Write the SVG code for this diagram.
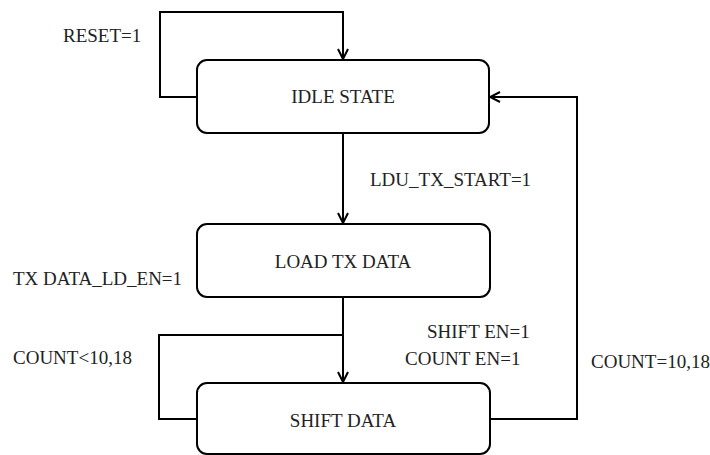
<svg xmlns="http://www.w3.org/2000/svg" width="710" height="455" viewBox="0 0 710 455">
<style>
.box{fill:#fff;stroke:#000;stroke-width:2}
.ln{fill:none;stroke:#000;stroke-width:2}
text{font-family:"Liberation Serif","Times New Roman",serif;font-size:19px;fill:#222}
.c{text-anchor:middle}
</style>
<defs>
<marker id="ah" viewBox="0 0 12 12" refX="11" refY="6" markerWidth="12" markerHeight="12" markerUnits="userSpaceOnUse" orient="auto">
<polyline points="1,1 11,6 1,11" fill="none" stroke="#000" stroke-width="2"/>
</marker>
</defs>
<rect width="710" height="455" fill="#fff"/>
<g id="connectors">
<polyline class="ln" points="197,97 160,97 160,12 343,12 343,59" marker-end="url(#ah)"/>
<line class="ln" x1="343" y1="133" x2="343" y2="223" marker-end="url(#ah)"/>
<line class="ln" x1="343" y1="297" x2="343" y2="382" marker-end="url(#ah)"/>
<polyline class="ln" points="197,419 159,419 159,335 343,335"/>
<polyline class="ln" points="490,419 577,419 577,97 490,97" marker-end="url(#ah)"/>
</g>
<g id="idle">
<rect class="box" x="197" y="60" width="292" height="73" rx="10"/>
<text class="c" x="343" y="103">IDLE STATE</text>
</g>
<g id="load">
<rect class="box" x="197" y="224" width="293" height="73" rx="10"/>
<text class="c" x="343" y="268">LOAD TX DATA</text>
</g>
<g id="shift">
<rect class="box" x="197" y="383" width="293" height="71" rx="10"/>
<text class="c" x="343" y="427">SHIFT DATA</text>
</g>
<g id="labels">
<text x="63" y="42">RESET=1</text>
<text x="370" y="186">LDU_TX_START=1</text>
<text x="13" y="285">TX DATA_LD_EN=1</text>
<text x="13" y="364">COUNT&lt;10,18</text>
<text x="427" y="338">SHIFT EN=1</text>
<text x="405" y="365">COUNT EN=1</text>
<text x="591" y="368">COUNT=10,18</text>
</g>
</svg>
